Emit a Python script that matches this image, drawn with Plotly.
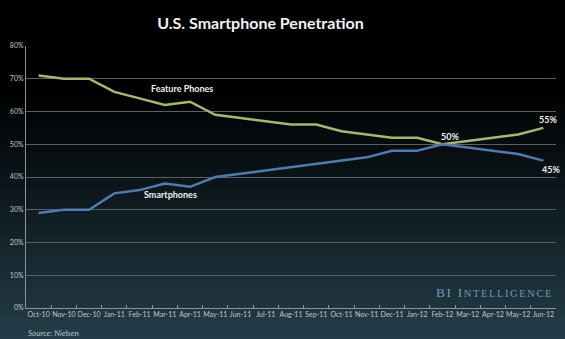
import plotly.graph_objects as go

months = ["Oct-10", "Nov-10", "Dec-10", "Jan-11", "Feb-11", "Mar-11", "Apr-11",
          "May-11", "Jun-11", "Jul-11", "Aug-11", "Sep-11", "Oct-11", "Nov-11",
          "Dec-11", "Jan-12", "Feb-12", "Mar-12", "Apr-12", "May-12", "Jun-12"]
feature_phones = [71, 70, 70, 66, 64, 62, 63, 59, 58, 57, 56, 56, 54, 53, 52, 52, 50, 51, 52, 53, 55]
smartphones = [29, 30, 30, 35, 36, 38, 37, 40, 41, 42, 43, 44, 45, 46, 48, 48, 50, 49, 48, 47, 45]
y_ticks = [0, 10, 20, 30, 40, 50, 60, 70, 80]
y_labels = [f"{v}%" for v in y_ticks]

fig = go.Figure()
fig.add_trace(go.Scatter(x=months, y=feature_phones, mode="lines",
                         line=dict(color="#a8b86b", width=2.5), name="Feature Phones"))
fig.add_trace(go.Scatter(x=months, y=smartphones, mode="lines",
                         line=dict(color="#4d7db0", width=2.5), name="Smartphones"))

# background gradient (black top -> dark teal bottom)
shapes = []
n = 60
top = (0, 0, 0)
bot = (38, 67, 79)
for i in range(n):
    t = i / (n - 1)
    f = max(0.0, (t - 0.25) / 0.75) ** 1.1
    c = tuple(int(top[k] + (bot[k] - top[k]) * f) for k in range(3))
    shapes.append(dict(type="rect", xref="paper", yref="paper", layer="below",
                       x0=-0.1, x1=1.1,
                       y0=1.2 - (i + 1) * 1.4 / n, y1=1.2 - i * 1.4 / n + 0.005,
                       fillcolor=f"rgb{c}", line=dict(width=0)))

lbl_font = dict(family="Lato", size=9, color="#f0f0f0", weight="bold")
ann = [
    dict(text="Feature Phones", x=months[6], y=feature_phones[6], xref="x", yref="y",
         xshift=-8, yshift=13, showarrow=False, font=lbl_font),
    dict(text="Smartphones", x=months[5], y=smartphones[5], xref="x", yref="y",
         xshift=6, yshift=-11, showarrow=False, font=lbl_font),
    dict(text="50%", x=months[16], y=50, xref="x", yref="y", xshift=8, yshift=8,
         showarrow=False, font=lbl_font),
    dict(text="55%", x=months[20], y=feature_phones[20], xref="x", yref="y", yshift=8, xshift=5,
         showarrow=False, font=lbl_font),
    dict(text="45%", x=months[20], y=smartphones[20], xref="x", yref="y", yshift=-9, xshift=8,
         showarrow=False, font=lbl_font),
    dict(text="<i>Source: Nielsen</i>", x=0.0, y=-0.095, xref="paper", yref="paper",
         xanchor="left", yanchor="middle", showarrow=False,
         font=dict(family="Lato", size=8, color="#b8c4c8")),
    dict(text="<span style='letter-spacing:1.6px'>BI I<span style='font-size:10.5px'>NTELLIGENCE</span></span>",
         x=0.998, xanchor="right", y=4.6, xref="paper", yref="y", showarrow=False,
         font=dict(family="Liberation Serif", size=13.5, color="#6f9bb8")),
]

fig.update_layout(
    width=565, height=339,
    margin=dict(l=26, r=9, t=46, b=31),
    paper_bgcolor="#000000", plot_bgcolor="rgba(0,0,0,0)",
    shapes=shapes,
    annotations=ann,
    showlegend=False,
    title=dict(text="U.S. Smartphone Penetration", x=0.461, xanchor="center", y=0.93,
               yanchor="middle",
               font=dict(family="Lato", size=16, color="#f2f2f2", weight="bold")),
    xaxis=dict(type="category", range=[-0.5, 20.5], showgrid=False, showline=True,
               linecolor="#8a9699", linewidth=1, ticks="inside", ticklen=3,
               tickcolor="#8a9699", tickson="boundaries", tickangle=0,
               tickfont=dict(family="Lato", size=7, color="#c0c8ca")),
    yaxis=dict(range=[0, 80], tickvals=y_ticks, ticktext=y_labels, showgrid=True,
               gridcolor="#5a5f60", gridwidth=1, showline=True, linecolor="#8a9699",
               ticks="", zeroline=False,
               tickfont=dict(family="Lato", size=7, color="#c0c8ca")),
)

fig.write_html("out.html")
